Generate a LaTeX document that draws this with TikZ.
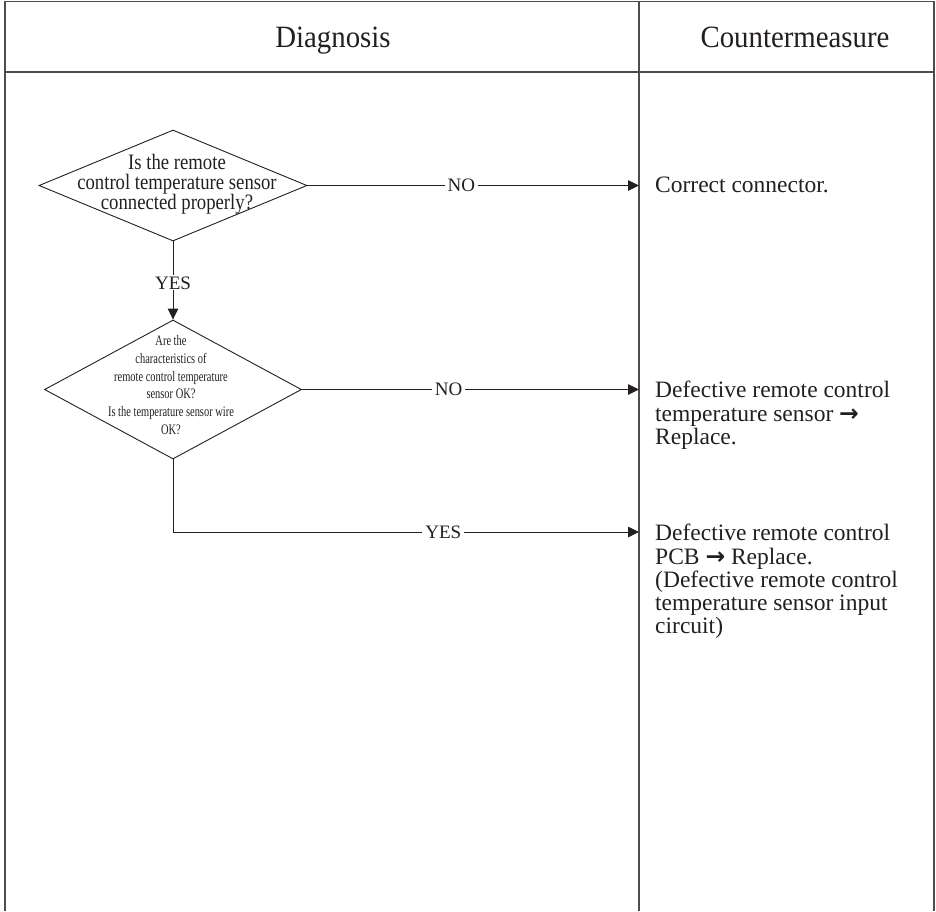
\documentclass[tikz,border=0pt]{standalone}
\usepackage{fontspec}
\usepackage{xcolor}
\usepackage{tikz}
\usetikzlibrary{shapes.geometric,arrows.meta}
\setmainfont{Liberation Serif}
\newfontfamily\headfont[FakeStretch=0.93]{Liberation Serif}
\newfontfamily\askfont[FakeStretch=0.85]{Liberation Serif}
\newfontfamily\smallaskfont[FakeStretch=0.72]{Liberation Serif}
\newfontfamily\glyphfont{DejaVu Sans}
\definecolor{rule}{HTML}{4d4d4d}
\definecolor{ink}{HTML}{231f20}
\newcommand{\thenarrow}{{\glyphfont\bfseries →}}

\begin{document}
\begin{tikzpicture}[x=1pt, y=-1pt,
  every node/.style={text=ink, inner sep=0pt},
  frame/.style={draw=rule, line width=1.4pt},
  ask/.style={diamond, draw=ink, line width=0.9pt},
  flow/.style={draw=ink, line width=0.9pt, -{Triangle[length=11pt,width=10.5pt]}},
  answer/.style={fill=white, inner xsep=3pt, inner ysep=1pt, font=\fontsize{19}{19}\selectfont},
  remedy/.style={anchor=north west, align=left, font=\fontsize{23.5}{23.3}\selectfont}]
  \useasboundingbox (0,0) rectangle (936,911);
  % Table
  \draw[frame] (5,911) -- (5,1.5) -- (934,1.5) -- (934,911);
  \draw[frame] (5,72) -- (934,72);
  \draw[frame] (639,1.5) -- (639,911);
  \coordinate (cm) at (639,0);
  % Headers
  \node[anchor=base, font=\headfont\fontsize{31}{31}\selectfont] (hd) at (333,47) {Diagnosis};
  \node[anchor=base, font=\headfont\fontsize{31}{31}\selectfont] (hc) at (795,47) {Countermeasure};
  % Questions
  \node[ask, minimum width=268pt, minimum height=111pt] (q1) at (173,185.5) {};
  \node[align=center, font=\askfont\fontsize{22}{20}\selectfont] (t1) at (177,184)
    {Is the remote\\control temperature sensor\\connected properly?};
  \node[ask, minimum width=257pt, minimum height=139pt] (q2) at (173,389.5) {};
  \node[align=center, font=\smallaskfont\fontsize{14.5}{17.7}\selectfont] (t2) at (171,385)
    {Are the\\characteristics of\\remote control temperature\\sensor OK?\\Is the temperature sensor wire\\OK?};
  % Countermeasures
  \node[remedy] (r1) at (655,177) {Correct connector.};
  \node[remedy] (r2) at (655,381) {Defective remote control\\temperature sensor \thenarrow\\Replace.};
  \node[remedy] (r3) at (655,524) {Defective remote control\\PCB \thenarrow\ Replace.\\(Defective remote control\\temperature sensor input\\circuit)};
  \coordinate (e3) at (639,532);
  % Arrows
  \draw[flow] (q1.east) -- node[answer, pos=0.464] {NO} (q1.east -| cm);
  \draw[flow] (q1.south) -- node[answer, pos=0.53] {YES} (q2.north);
  \draw[flow] (q2.east) -- node[answer, pos=0.435] {NO} (q2.east -| cm);
  \draw[flow] (q2.south) |- node[answer, pos=0.79] {YES} (e3);
\end{tikzpicture}
\end{document}
